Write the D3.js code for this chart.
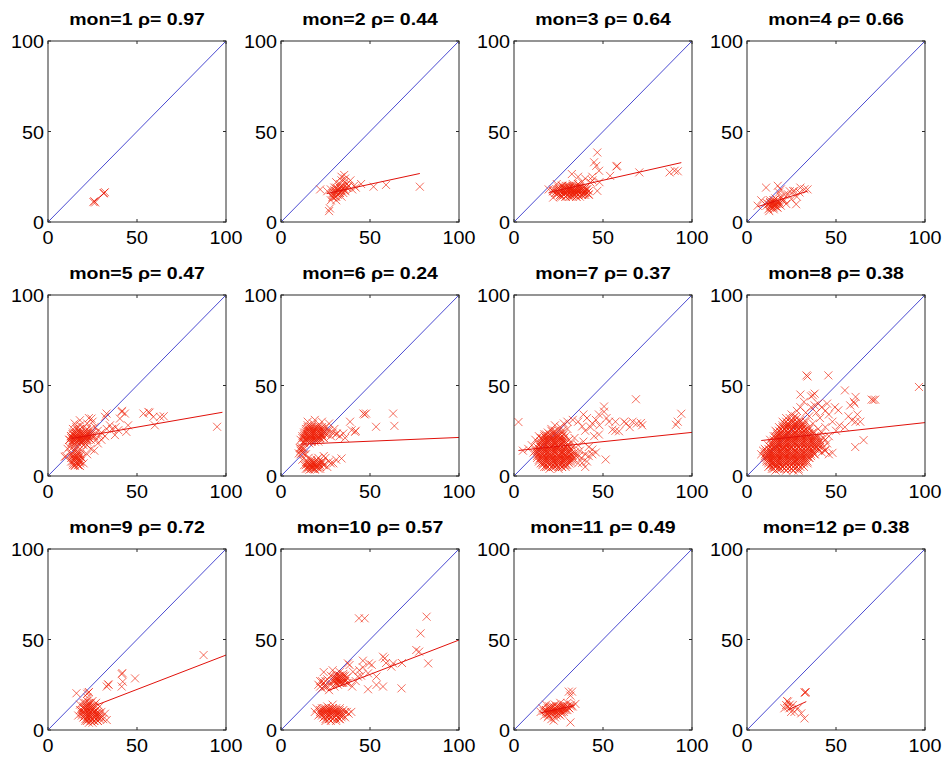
<!DOCTYPE html>
<html><head><meta charset="utf-8">
<script src="https://cdn.jsdelivr.net/npm/d3@7"></script>
<style>
html,body{margin:0;padding:0;background:#fff;}
svg{display:block;font-family:"Liberation Sans",Arial,sans-serif;}
</style></head>
<body><svg id="chart" width="944" height="760"></svg>
<script>
const months = [1,2,3,4,5,6,7,8,9,10,11,12];
const rhoLabels = ["0.97","0.44","0.64","0.66","0.47","0.24","0.37","0.38","0.72","0.57","0.49","0.38"];
const axisTicks = [0,50,100];
const tickLabels = ["0","50","100"];

// scattered points [x, y]
const pts1 = [[25.5,11],[26,11.5],[26.5,10.8],[31.5,16],[32,16.5],[31.2,15.8]];
const pts2 = [[22,18],[27,6],[27.5,7.5],[28,12],[29,13.5],[29,15],[30,16],[30.5,14],[31,12],[31,17],[32,18],[32,15],[33,19],[33,21],[33.5,17],[34,23],[34,25],[35,20],[35,18],[35.5,26],[36,22],[36,24],[37,19],[37,21],[38,20],[39,23],[40,18],[41,20],[42,19],[45,21],[52,19.5],[59,20.5],[78,19.5],[30,19],[28,18],[26,17],[33,16],[36,17],[34,14],[31,22]];
const pts3 = [[22,17],[24,16],[25,18],[26,15],[27,17],[28,19],[28,16],[29,14],[29,18],[30,17],[30,15],[31,19],[31,16],[32,18],[32,14],[33,17],[33,15],[34,19],[34,16],[35,18],[35,14],[36,17],[36,15],[37,19],[37,16],[38,18],[38,15],[39,17],[40,19],[40,16],[41,18],[42,15],[30,20],[33,21],[36,21],[27,20],[35,16],[33,19],[31,17.5],[34,17.5],[37,17.5],[29,16.5],[39,15],
  [19.5,18],[22,13.5],[26,14],[24,21],[32.5,26.5],[42,15.3],[41,18],[43,21.8],[46.8,17.2],[46.2,31],[46.8,38.4],[47.8,28.3],[44,25],[45,33],[44,23],[54,25.5],[57.5,30.7],[58,31],[70.4,27.4],[87.4,27.4],[90.2,28.3],[92,28],[48,22],[38,22],[36,25],[40,24]];
const pts4 = [[6,9],[8,12],[10.7,19],[11,10.5],[12,7],[12.5,6],[13,9],[13,12],[14,8],[14.5,11],[15,7],[15.5,9],[16,10],[16,13],[17,8],[17.3,20],[18,16.3],[18,11],[19,14],[19,9],[20,12],[21,12],[21,15],[22,10],[23,15.3],[24,17],[25,12.6],[26,17],[26.7,17.2],[27.6,9.8],[28,14],[29.5,16.3],[30,19],[32.3,18.1],[34,18],[11,9],[13,10.5],[15,12],[17,10],[19,18]];
const pts5 = [[12,20],[13,22],[13.5,19],[14,23],[14,21],[15,20],[15,24],[15.5,22],[16,19],[16,23],[17,21],[17,25],[17.5,20],[18,22],[18.5,24],[19,19],[19,21],[20,23],[20,20],[21,22],[21,25],[22,20],[22,23],[23,21],[24,22],[24,26],[25,24],[26,22],[14,26],[16,27],[18,28],[20,27],[22,29],[25,30],[23,32],
  [13,8],[13,12],[14,6],[14,10],[15,5.5],[15,9],[15,14],[16,7],[16,11],[17,6],[17,9],[17,13],[18,8],[18,5.5],[19,10],[19,14],[20,7],[22,12],[24,15],[10,11],[11,15],[12,16],[14,16],[16,16],[20,17],[22,17],[26,14],
  [9.4,10.6],[15,29],[17.9,30.8],[24.4,31.7],[26.3,27.2],[29,22.6],[28,25],[30,24],[32,32.7],[32.9,34.5],[34.8,28],[33,26],[37.6,22.6],[36,26],[40.4,31.7],[41.4,35.4],[41.6,36],[43.2,34.5],[45,28],[44,24.4],[39.5,25.3],[38,27],[53.6,34.5],[56.4,35.4],[57,35],[59.2,32.7],[63,32.7],[65,33],[60,28],[95,27.2],[27,20],[30,20],[32,22],[28,18]];
const pts6 = [[11,20],[12,22],[12.5,19],[13,24],[13,21],[14,26],[14,20],[15,23],[15,28],[16,21],[16,25],[17,19],[17,23],[17,27],[18,21],[18,25],[18,29],[19,20],[19,23],[20,26],[20,22],[21,24],[21,28],[22,21],[22,26],[23,23],[24,25],[24,21],[25,27],[26,23],[27,25],[28,22],[29,24],[30,26],[31,23],[15,30],[19,31],[23,30],[27,29],[13,18],[16,18],
  [10,12.5],[11,14],[11.5,16],[12,13],[10.5,15.5],[13,15],[14,12],
  [13,6],[14,4],[14.5,8],[15,5],[15.5,10],[16,3.5],[16,7],[17,5],[17,9],[18,4],[18,7],[19,3.5],[19,6],[20,9],[20,5],[21,7],[22,4],[23,8],[24,6],[25,10],[26,5],[27,8],[28,7],[29.4,7],[31,9],[34,9.7],[24,11],[21,10],[12,9],
  [38.8,30],[41.6,24.4],[39.7,25.3],[42,25],[46.3,34.5],[47.8,34.5],[47,34],[53.4,27.2],[63,34.5],[63.7,27.7],[31.3,23.5],[35,23.5],[33,22],[36,21]];
const pts7 = [[12,20],[13,14],[14,18],[14,22],[15,10],[15,16],[16,12],[16,20],[16,7],[17,14],[17,18],[17,23],[18,5],[18,10],[18,16],[18,21],[19,8],[19,13],[19,19],[20,4],[20,11],[20,15],[20,22],[21,7],[21,17],[21,13],[22,5],[22,10],[22,20],[22,24],[23,8],[23,14],[23,18],[24,6],[24,12],[24,16],[24,22],[25,4],[25,9],[25,19],[25,14],[26,7],[26,11],[26,17],[26,21],[27,5],[27,13],[27,24],[28,9],[28,15],[28,19],[29,6],[29,12],[29,22],[30,10],[30,17],[30,26],[31,8],[31,14],[31,20],[32,12],[32,18],[33,9],[33,16],[34,13],[34,21],[35,11],[36,17],[36,7],[37,14],[38,10],[39,19],[40,12],[41,8],[42,16],[13,12],[15,21],[19,24],[21,26],[23,28],[26,27],[28,29],[30,30],[11,13],[10,17],[8,15],[5,14],
  [2.5,29.8],[50.6,38.4],[68.5,42.4],[94,34.4],[91,28.3],[92,30],[71.3,29.3],[72,28],[66.6,30],[61.9,30],[63,29],[50.6,35.5],[47.7,34],[41,32],[38.3,27.4],[44,29],[53.4,30],[55.3,25.6],[57,25],[59,24.7],[51.5,9.1],[44,14.6],[42,11],[38.3,7.3],[36.4,11],[47.7,22.9],[45,22],[40,25],[43,27],[48,28],[36,30],[33,31],[39,34],[46,31],[52,32],[57,30],[65,27],[69,29],[44,12],[46,13],[40,5]];
const pts8 = [[8,12],[9,14],[10,10],[10,15],[11,8],[11,13],[12,5],[12,11],[12,17],[13,9],[13,14],[13,20],[14,4],[14,7],[14,12],[14,18],[15,10],[15,15],[15,22],[16,3],[16,6],[16,13],[16,19],[16,25],[17,8],[17,11],[17,16],[17,22],[18,4],[18,14],[18,20],[18,27],[19,7],[19,10],[19,17],[19,24],[20,5],[20,12],[20,15],[20,21],[20,30],[21,8],[21,18],[21,26],[22,3],[22,11],[22,14],[22,23],[22,32],[23,6],[23,17],[23,20],[23,28],[24,9],[24,13],[24,25],[25,4],[25,16],[25,22],[25,30],[26,7],[26,11],[26,19],[26,27],[27,14],[27,24],[27,33],[28,5],[28,9],[28,17],[28,21],[28,29],[29,12],[29,26],[30,8],[30,15],[30,23],[30,31],[31,18],[31,28],[32,11],[32,21],[32,25],[33,14],[33,30],[34,17],[34,23],[35,10],[35,27],[36,20],[36,14],[37,24],[37,29],[38,17],[38,12],[39,22],[40,26],[40,15],[41,19],[42,24],[43,21],[44,27],[45,18],[46,22],[42,13],[44,14],[46,12],[48,12.8],[43.8,14.3],[33,35],[28,36],[25,34],[30,38],[35,33],[20,18],[21,13],[24,19],[27,8],[18,10],[15,7],[13,6],[29,3],[26,3],[32,5],[34,7],
  [33.4,55.6],[34,55],[45.7,55.6],[55,47.3],[61,43.7],[60,41],[60.5,40],[70,42.2],[72,42.2],[71,42],[96.6,49.2],[37,44.6],[38,45.5],[36,44],[42,38],[49.4,38],[51.3,36.3],[59,30.8],[61,30],[63.6,30],[60.8,16],[65.5,19.8],[40,40],[44,36],[46,34],[38,39],[48,30],[52,28],[55,27],[50,25],[41,32],[36,38],[39,35],[32,41],[30,45],[45,40],[58,39],[62,34],[57,33]];
const pts9 = [[19,10],[20,7],[20,12],[20,15],[21,5],[21,9],[21,13],[22,6],[22,11],[22,16],[23,4],[23,8],[23,12],[23,14],[24,6],[24,10],[24,15],[25,4],[25,8],[25,12],[26,5],[26,10],[26,14],[27,7],[27,11],[28,5],[28,9],[29,13],[29,7],[30,10],[31,6],[32,9],[33,5.5],[18,14],[18,11],[17,8],[22,18],[25,16],[27,15],
  [16,20.3],[22.6,20.6],[23,21],[22,20],[33,24],[33.8,25.2],[34,25],[41.4,30.9],[41.8,31.5],[42,26.7],[41.4,24],[48.9,28.5],[87.4,41.4]];
const pts10 = [[21,25],[22,27],[23,23],[24,26],[24,32],[25,24],[26,28],[27,22],[28,25],[28,30],[29,27],[30,24],[30,29],[31,26],[31,31],[32,28],[32,25],[33,30],[33,27],[34,29],[34,26],[35,31],[35,28],[36,27],[36,30],[37,29],[38,26],[31,28],[33,32],[29,33],
  [19,10],[20,12],[21,8],[22,11],[23,9],[24,12],[24,7],[25,10],[26,13],[26,8],[27,6],[27,11],[28,9],[28,5],[29,12],[30,7],[30,10],[31,5],[32,9],[33,12],[33,6],[34,8],[35,11],[36,7],[37,10],[38,9],[39.5,10],[25,5],[29,14],
  [43.8,61.7],[47,61.7],[81.8,62.6],[78.4,53.4],[76,44.2],[77.6,43.3],[82.7,36.8],[67.7,23],[63,36.8],[58.3,39.6],[57.3,40.5],[53.6,24.9],[48.9,31.3],[46,34.6],[49.4,36.8],[46,38.3],[38.5,35.9],[40.4,32.2],[43.2,29.5],[48.9,22.5],[57.3,24],[53.6,29.5],[37.6,36.8],[44,33],[42,27],[40,24],[45,30],[59,37],[51,36],[68,37],[62,35]];
const pts11 = [[15,10],[16,12],[17,8],[18,11],[18,14],[19,9],[19,7],[20,12],[20,10],[21,6],[21,13],[22,9],[22,11],[23,14],[23,7],[24,10],[24,12],[25,9],[25,13],[26,11],[26,15],[27,10],[27,13],[28,12],[28,14],[29,11],[30,13],[30,15],[31,12],[32,14],[33,13],[34.5,14.4],[30.8,21.2],[32.6,21.2],[31.7,19],[31.7,4.2],[16.6,10.5],[19.4,7.9],[22.3,5.2],[24,8],[26,8]];
const pts12 = [[32.7,20.6],[33,21],[32.4,20.8],[23,15.7],[22,13.8],[23.9,12],[24.8,10],[26.7,10],[30.5,9.2],[32.3,6.4],[23,12.9],[21,12],[28.6,12],[25.7,13.8],[24,14],[22.5,16]];

// densely overlapping parts, one row per y value: [y, [x values]]
const dense1 = [];
const dense2 = [[14,[29,31]],[16,[29,31,33,35]],[17.5,[30,32,34,36]],[19,[31,33,35,37]]];
const dense3 = [[14,[27,29,31,33,35,37]],[15,[24,26,28,30,32,34,36,38,40]],[16,[23,25,27,29,31,33,35,37,39,41]],[17,[22,24,26,28,30,32,34,36,38,40,42]],
  [18,[22,24,26,28,30,32,34,36,38,40]],[19,[25,27,29,31,33,35,37,39]],[20,[27,29,31,33,35,37]]];
const dense4 = [[8,[13,15,17]],[9,[14,16]],[10,[12,14,16,18]],[11,[13,15,17]],[12,[15,17,20]]];
const dense5 = [[6,[15,17]],[7,[14,16,18]],[8,[14,16,18]],[9,[15,17]],[10,[13,15,17,19]],[11,[14,16,18]],[12,[14,16,18]],[14,[15,17]],
  [18,[13,15,17,19,21]],[19,[14,16,18,20,22]],[20,[12,14,16,18,20,22,24]],[21,[13,15,17,19,21,23]],[22,[13,15,17,19,21,23,25]],[23,[14,16,18,20,22,24]],[24,[14,16,18,20,22,24]],[26,[16,18,22]]];
const dense6 = [[4,[15,17,19,21]],[5,[16,18,20,22]],[6,[14,16,18,20,22,24]],[7,[15,17,19,21,23]],[8,[15,17,19,21,23]],[12,[11,13]],[15,[11,12]],
  [19,[13,15,17,19,21]],[20,[14,16,18,20,22]],[21,[12,14,16,18,20,22,24]],[22,[13,15,17,19,21,23]],[23,[13,15,17,19,21,23,25]],[24,[14,16,18,20,22,24]],
  [25,[14,16,18,20,22,24,26]],[26,[15,17,19,21,23]],[27,[15,17,19,21,23]]];
const dense7 = [[5,[17,19,21,23,25,27,29]],[6,[16,18,20,22,24,26,28,30]],[7,[15,17,19,21,23,25,27,29,31]],[8,[14,16,18,20,22,24,26,28,30,32]],
  [9,[14,16,18,20,22,24,26,28,30,32]],[10,[13,15,17,19,21,23,25,27,29,31,33]],
  [11,[13,15,17,19,21,23,25,27,29,31,33]],[12,[14,16,18,20,22,24,26,28,30,32,34]],[13,[13,15,17,19,21,23,25,27,29,31]],
  [14,[12,14,16,18,20,22,24,26,28,30,32]],[15,[14,16,18,20,22,24,26,28,30,32]],[16,[13,15,17,19,21,23,25,27,29,31]],
  [17,[14,16,18,20,22,24,26,28,30]],[18,[15,17,19,21,23,25,27,29]],[19,[15,17,19,21,23,25,27,29]],[20,[16,18,20,22,24,26,28]],
  [21,[16,18,20,22,24,26,28]],[22,[17,19,21,23,25,27]],[23,[18,20,22,24,26,28]],[25,[21,23,25,27]]];
const dense8 = [[4,[15,17,19,21,23,25,27,29]],[5,[14,16,18,20,22,24,26,28,30]],[6,[13,15,17,19,21,23,25,27,29,31]],[7,[12,14,16,18,20,22,24,26,28,30,32]],
  [8,[12,14,16,18,20,22,24,26,28,30,32,34]],[9,[11,13,15,17,19,21,23,25,27,29,31,33]],
  [10,[11,13,15,17,19,21,23,25,27,29,31,33,35]],[11,[10,12,14,16,18,20,22,24,26,28,30,32,34,36]],[12,[10,12,14,16,18,20,22,24,26,28,30,32,34,36,38]],
  [13,[11,13,15,17,19,21,23,25,27,29,31,33,35,37]],[14,[11,13,15,17,19,21,23,25,27,29,31,33,35,37,40]],[15,[12,14,16,18,20,22,24,26,28,30,32,34,36,38,40]],
  [16,[13,15,17,19,21,23,25,27,29,31,33,35,37,39,41,43]],[17,[14,16,18,20,22,24,26,28,30,32,34,36,38,40]],
  [18,[14,16,18,20,22,24,26,28,30,32,34,36,38,40,42]],[19,[15,17,19,21,23,25,27,29,31,33,35,37,39]],[20,[15,17,19,21,23,25,27,29,31,33,35,37,39,41,44]],
  [21,[16,18,20,22,24,26,28,30,32,34,36,38]],[22,[16,18,20,22,24,26,28,30,32,34,36,38,40]],[23,[17,19,21,23,25,27,29,31,33,35]],[24,[17,19,21,23,25,27,29,31,33,35,37]],
  [25,[18,20,22,24,26,28,30,32,34]],[26,[19,21,23,25,27,29,31,33,35]],[27,[20,22,24,26,28,30,32]],[28,[20,22,24,26,28,30,32]],[29,[21,23,25,27,29,31]],[30,[22,24,26,28,30]],[32,[24,26,28]]];
const dense9 = [[5,[22,24,26,28]],[6,[21,23,25,27,29]],[7,[20,22,24,26,28,30]],[8,[19,21,23,25,27,29]],[9,[19,21,23,25,27,29]],[10,[20,22,24,26,28]],
  [11,[19,21,23,25,27]],[12,[20,22,24,26]],[13,[20,22,24,26]],[15,[21,23]]];
const dense10 = [[6,[25,27,29,31,33]],[7,[24,26,28,30,32,34]],[8,[23,25,27,29,31,33,35]],[9,[22,24,26,28,30,32,34]],[10,[22,24,26,28,30,32,34,36]],[11,[23,25,27,29,31,33]],[12,[23,25,27,29,31]],
  [24,[22,24,26]],[26,[31,33,35,37]],[27,[23,25,30,32,34,36]],[28,[30,32,34,36]],[29,[31,33,35]],[30,[31,33,35]]];
const dense11 = [[9,[19,21,23,25,27]],[10,[18,20,22,24,26,28]],[11,[18,20,22,24,26,28,30]],[12,[19,21,23,25,27,29,31]],[13,[20,22,24,26,28,30,32]]];
const dense12 = [];

// regression line end points [x0, y0, x1, y1]
const fitLines = [
  [26,11.2,31.8,16.2],[25.7,15.7,78,26.8],[19.5,16.3,94,32.8],[6,8.5,34,17],
  [13.2,20.7,98,35.2],[11.2,17.6,100,21.3],[2.5,14.1,100,24.1],[8,19.6,100,29.5],
  [27.3,13.8,100,41.4],[26.3,21.7,100,49.7],[15,9.5,34,13.5],[22.9,11,33.3,15.7]
];

const allPts = [pts1,pts2,pts3,pts4,pts5,pts6,pts7,pts8,pts9,pts10,pts11,pts12];
const allDense = [dense1,dense2,dense3,dense4,dense5,dense6,dense7,dense8,dense9,dense10,dense11,dense12];

const svg = d3.select("#chart");
const W = 178, H = 181;
const colStart = 48, colStep = 233, rowStart = 41, rowStep = 254;

months.forEach((m, i) => {
  const col = i % 4, row = Math.floor(i / 4);
  const left = colStart + col * colStep, top = rowStart + row * rowStep;
  const g = svg.append("g").attr("transform", `translate(${left},${top})`);
  const x = d3.scaleLinear().domain([0,100]).range([0,W]);
  const y = d3.scaleLinear().domain([0,100]).range([H,0]);

  // title (horizontally widened like the original bold Helvetica)
  g.append("text")
    .attr("transform", `translate(${W/2},-16) scale(1.22,1)`)
    .attr("text-anchor","middle").attr("font-size",16).attr("font-weight","bold")
    .attr("fill","#000").text(`mon=${m} ρ= ${rhoLabels[i]}`);

  const clip = "clip" + i;
  g.append("clipPath").attr("id", clip).append("rect").attr("width", W).attr("height", H);
  const inner = g.append("g").attr("clip-path", `url(#${clip})`);

  // 1:1 line
  inner.append("line")
    .attr("x1", x(0)).attr("y1", y(0)).attr("x2", x(100)).attr("y2", y(100))
    .attr("stroke", "#3535cc").attr("stroke-width", 0.9);

  // markers
  const data = allPts[i].concat(allDense[i].flatMap(r => r[1].map(v => [v, r[0]])));
  const s = 4;
  const mk = inner.append("g").attr("stroke", "#ee1e06").attr("stroke-width", 1).attr("stroke-opacity", 0.65).attr("fill","none");
  mk.selectAll("path").data(data).join("path")
    .attr("d", d => {
      const px = x(d[0]), py = y(d[1]);
      return `M${px-s},${py-s}L${px+s},${py+s}M${px-s},${py+s}L${px+s},${py-s}`;
    });

  // fit line
  const f = fitLines[i];
  inner.append("line")
    .attr("x1", x(f[0])).attr("y1", y(f[1])).attr("x2", x(f[2])).attr("y2", y(f[3]))
    .attr("stroke", "#e0100a").attr("stroke-width", 1);

  // box
  g.append("rect").attr("width", W).attr("height", H)
    .attr("fill","none").attr("stroke","#2a2a2a").attr("stroke-width",1);

  // inward ticks on all four sides
  const tk = 3;
  axisTicks.forEach(t => {
    g.append("line").attr("x1", x(t)).attr("x2", x(t)).attr("y1", H).attr("y2", H - tk).attr("stroke","#2a2a2a");
    g.append("line").attr("x1", x(t)).attr("x2", x(t)).attr("y1", 0).attr("y2", tk).attr("stroke","#2a2a2a");
    g.append("line").attr("y1", y(t)).attr("y2", y(t)).attr("x1", 0).attr("x2", tk).attr("stroke","#2a2a2a");
    g.append("line").attr("y1", y(t)).attr("y2", y(t)).attr("x1", W).attr("x2", W - tk).attr("stroke","#2a2a2a");
  });

  // tick labels
  axisTicks.forEach((t, k) => {
    g.append("text").attr("transform", `translate(${x(t)},${H + 22}) scale(1.04,1)`)
      .attr("text-anchor","middle").attr("font-size",19).attr("fill","#000").text(tickLabels[k]);
    g.append("text").attr("transform", `translate(-4,${y(t) + 7}) scale(1.04,1)`)
      .attr("text-anchor","end").attr("font-size",19).attr("fill","#000").text(tickLabels[k]);
  });
});
</script></body></html>
